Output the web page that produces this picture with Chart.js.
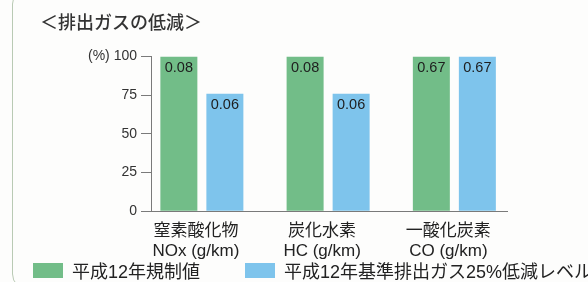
<!DOCTYPE html>
<html lang="ja">
<head>
<meta charset="utf-8">
<title>排出ガスの低減</title>
<script src="https://cdn.jsdelivr.net/npm/chart.js@4.4.1/dist/chart.umd.min.js"></script>
<style>
  html, body { margin: 0; padding: 0; }
  body {
    width: 588px; height: 282px; overflow: hidden; position: relative;
    background: #fdfdfc;
    font-family: "Liberation Sans", "Noto Sans CJK JP", sans-serif;
  }
  /* rounded panel edge on the left */
  .frame {
    position: absolute; left: 12px; top: -12px; width: 700px; height: 300px;
    border: 1.5px solid #b9cab4; border-radius: 16px;
  }
  #chart { position: absolute; left: 0; top: 0; }
  .legend-item { position: absolute; top: 261px; height: 18px; display: flex; align-items: center; white-space: nowrap; }
  .legend-box { width: 30px; height: 15px; margin-right: 9px; }
  .legend-text { font-size: 18px; color: #222; font-family: "Liberation Sans", "Noto Sans CJK JP", sans-serif; }
</style>
</head>
<body>
<div class="frame"></div>
<canvas id="chart" width="588" height="282"></canvas>
<div id="legend"></div>
<script>
// categories (two-line labels) and series
const categories = [
    ['窒素酸化物', 'NOx (g/km)'],
    ['炭化水素', 'HC (g/km)'],
    ['一酸化炭素', 'CO (g/km)']
];
const seriesNames = ['平成12年規制値', '平成12年基準排出ガス25%低減レベル'];

// bar heights in % of the regulation value
const regulationPct = [100, 100, 100];
const reducedPct = [76, 76, 100];

// values printed inside the bars (g/km)
const regulationValues = ['0.08', '0.08', '0.67'];
const reducedValues = ['0.06', '0.06', '0.67'];

// y axis ticks
const yTicks = [0, 25, 50, 75, 100];

const latinJp = '"Liberation Sans", "Noto Sans CJK JP", sans-serif';
const greenColor = '#72bd88';
const blueColor = '#7ec4ec';

// draws the value text just below the top of each bar
const valueLabels = {
    id: 'valueLabels',
    afterDatasetsDraw(chart) {
        const ctx = chart.ctx;
        ctx.save();
        ctx.font = '14.5px ' + latinJp;
        ctx.fillStyle = '#1e1e1e';
        ctx.textAlign = 'center';
        ctx.textBaseline = 'middle';
        chart.data.datasets.forEach((ds, i) => {
            chart.getDatasetMeta(i).data.forEach((bar, j) => {
                ctx.fillText(ds.valueText[j], bar.x, bar.y + 11);
            });
        });
        ctx.restore();
    }
};

const toPoints = arr => arr.map((v, i) => ({ x: i, y: v }));

const data = {
    datasets: [{
        label: seriesNames[0],
        data: toPoints(regulationPct),
        valueText: regulationValues,
        backgroundColor: greenColor
    }, {
        label: seriesNames[1],
        data: toPoints(reducedPct),
        valueText: reducedValues,
        backgroundColor: blueColor
    }]
};

const config = {
    type: 'bar',
    data: data,
    options: {
        responsive: false,
        animation: false,
        devicePixelRatio: 1,
        categoryPercentage: 0.729,
        barPercentage: 0.804,
        layout: { padding: { left: 40, right: 81, top: 0, bottom: 10 } },
        scales: {
            x: {
                type: 'linear',
                min: -0.403,
                max: 2.417,
                offset: false,
                grid: { offset: false, drawOnChartArea: false, drawTicks: false },
                border: { color: '#7a7a7a', width: 1 },
                ticks: {
                    stepSize: 1,
                    includeBounds: false,
                    autoSkip: false,
                    maxRotation: 0,
                    padding: 10,
                    labelOffset: -6,
                    color: '#222',
                    font: { size: 17, family: latinJp, lineHeight: 1.2 },
                    callback: v => (Number.isInteger(v) && v >= 0 && v < categories.length) ? categories[v] : ''
                }
            },
            y: {
                min: yTicks[0],
                max: yTicks[yTicks.length - 1],
                grid: { drawOnChartArea: false, tickLength: 10, color: '#7a7a7a' },
                border: { color: '#7a7a7a', width: 1 },
                ticks: {
                    stepSize: yTicks[1] - yTicks[0],
                    padding: 4,
                    color: '#333',
                    font: { size: 14, family: latinJp },
                    callback: v => v === yTicks[yTicks.length - 1] ? '(%) ' + v : v
                },
                afterFit(scale) { scale.width = 111; }
            }
        },
        plugins: {
            legend: { display: false },
            tooltip: { enabled: false },
            title: {
                display: true,
                text: '＜排出ガスの低減＞',
                align: 'start',
                color: '#333',
                font: { size: 18, weight: 500, family: '"Noto Sans CJK JP", sans-serif', lineHeight: 1.2 },
                padding: { top: 11, bottom: 24 }
            }
        }
    },
    plugins: [valueLabels]
};

const chart = new Chart(document.getElementById('chart'), config);

// legend below the chart, built from the datasets
const legendLefts = [33, 245];
const legendEl = document.getElementById('legend');
chart.data.datasets.forEach((ds, i) => {
    const item = document.createElement('div');
    item.className = 'legend-item';
    item.style.left = legendLefts[i] + 'px';
    const box = document.createElement('span');
    box.className = 'legend-box';
    box.style.background = ds.backgroundColor;
    const text = document.createElement('span');
    text.className = 'legend-text';
    text.textContent = ds.label;
    item.appendChild(box);
    item.appendChild(text);
    legendEl.appendChild(item);
});
</script>
</body>
</html>
